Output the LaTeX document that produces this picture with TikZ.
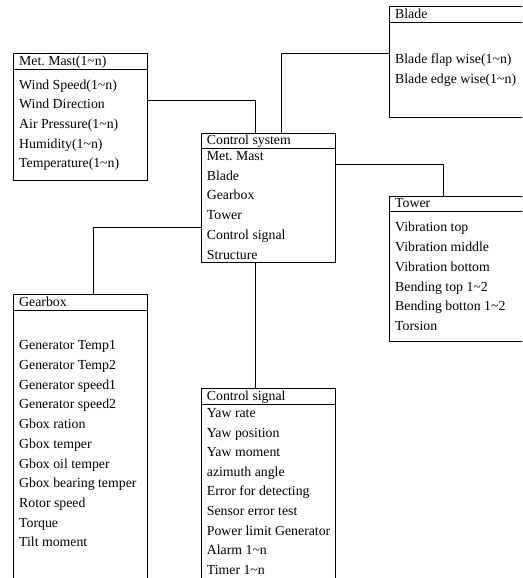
\documentclass[tikz,border=0pt]{standalone}
\usepackage{fontspec}
\setmainfont{Liberation Serif}
\begin{document}
\begin{tikzpicture}[x=1pt,y=-1pt]
\tikzset{
 box/.style={draw, line width=0.8pt, rectangle, anchor=north west, outer sep=0pt, inner sep=0pt},
 row/.style={anchor=base west, inner sep=0pt, font=\fontsize{13.8}{16}\selectfont},
 wire/.style={line width=0.8pt},
}
\useasboundingbox (0,0) rectangle (522,578);
\clip (0,0) rectangle (522,578);
% boxes
\node[box, minimum width=134.4pt, minimum height=126.6pt] (mm) at (13.3,53.7) {};
\node[box, minimum width=134pt, minimum height=129pt] (cs) at (201.3,133.3) {};
\node[box, minimum width=150pt, minimum height=110.6pt] (bl) at (389.3,6.7) {};
\node[box, minimum width=150pt, minimum height=145.7pt] (tw) at (389.3,196) {};
\node[box, minimum width=134.4pt, minimum height=300pt] (gb) at (13.3,294.7) {};
\node[box, minimum width=134pt, minimum height=220pt] (sig) at (201.3,388.7) {};
% header lines
\draw[wire] (mm.west |- 0,69.7) -- (mm.east |- 0,69.7);
\draw[wire] (cs.west |- 0,148.7) -- (cs.east |- 0,148.7);
\draw[wire] (bl.west |- 0,22.3) -- (bl.east |- 0,22.3);
\draw[wire] (tw.west |- 0,211.7) -- (tw.east |- 0,211.7);
\draw[wire] (gb.west |- 0,310.3) -- (gb.east |- 0,310.3);
\draw[wire] (sig.west |- 0,404.7) -- (sig.east |- 0,404.7);
% headers
\node[row] (mmh) at (19,65.2) {Met.\ Mast(1\textasciitilde n)};
\node[row] (csh) at (206.7,144.8) {Control system};
\node[row] (blh) at (395,18.5) {Blade};
\node[row] (twh) at (395,207.5) {Tower};
\node[row] (gbh) at (19,306.8) {Gearbox};
\node[row] (sigh) at (206.7,400.8) {Control signal};
% rows
\foreach \t [count=\i from 0] in {Wind Speed(1\textasciitilde n), Wind Direction, Air Pressure(1\textasciitilde n), Humidity(1\textasciitilde n), Temperature(1\textasciitilde n)}
  \node[row] (mm\i) at (19, 84.7+19.65*\i+4.5) {\t};
\foreach \t [count=\i from 0] in {Met.\ Mast, Blade, Gearbox, Tower, Control signal, Structure}
  \node[row] (cs\i) at (206.7, 156+19.7*\i+4.5) {\t};
\foreach \t [count=\i from 0] in {Blade flap wise(1\textasciitilde n), Blade edge wise(1\textasciitilde n)}
  \node[row] (bl\i) at (395, 59+20.3*\i+4.5) {\t};
\foreach \t [count=\i from 0] in {Vibration top, Vibration middle, Vibration bottom, Bending top 1\textasciitilde 2, Bending botton 1\textasciitilde 2, Torsion}
  \node[row] (tw\i) at (395, 227.3+19.75*\i+4.5) {\t};
\foreach \t [count=\i from 0] in {Generator Temp1, Generator Temp2, Generator speed1, Generator speed2, Gbox ration, Gbox temper, Gbox oil temper, Gbox bearing temper, Rotor speed, Torque, Tilt moment}
  \node[row] (gb\i) at (19, 345.3+19.7*\i+4.5) {\t};
\foreach \t [count=\i from 0] in {Yaw rate, Yaw position, Yaw moment, azimuth angle, Error for detecting, Sensor error test, Power limit Generator, Alarm 1\textasciitilde n, Timer 1\textasciitilde n}
  \node[row] (sig\i) at (206.7, 413+19.6*\i+4.5) {\t};
% connectors
\draw[wire] (mm.east |- 0,100.3) -| (cs.north -| 255.3,0);
\draw[wire] (bl.west |- 0,53.3) -| (cs.north -| 281.7,0);
\draw[wire] (cs.east |- 0,164.3) -| (tw.north -| 443,0);
\draw[wire] (cs.west |- 0,227.3) -| (gb.north -| 93.3,0);
\draw[wire] (cs.south -| 255.3,0) -- (sig.north -| 255.3,0);
\end{tikzpicture}
\end{document}
